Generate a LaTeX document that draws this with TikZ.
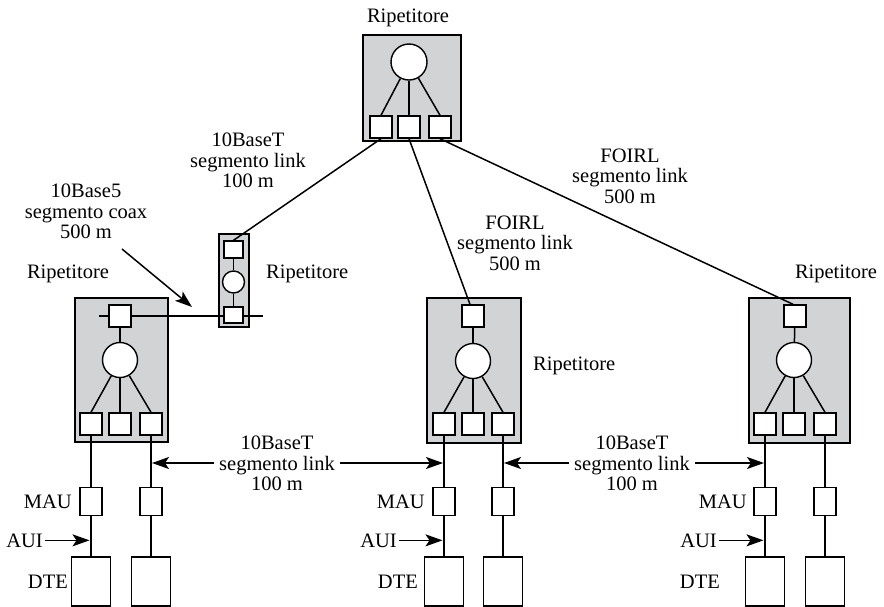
\documentclass[tikz,border=0pt]{standalone}
\usepackage{fontspec}
\setmainfont{Liberation Serif}
\usetikzlibrary{arrows.meta}
\definecolor{repgray}{RGB}{210,211,213}
\begin{document}
\begin{tikzpicture}[x=1pt,y=-1pt,
  every node/.style={font=\fontsize{20.5}{20.5}\selectfont},
  rbox/.style={draw, line width=2.3pt, fill=repgray, inner sep=0pt},
  port/.style={draw, fill=white, line width=1.4pt, minimum width=22pt, minimum height=22pt, inner sep=0pt},
  hub/.style={circle, draw, fill=white, line width=1.4pt, minimum size=35pt, inner sep=0pt},
  mau/.style={draw, line width=1.4pt, minimum width=22pt, minimum height=28pt, inner sep=0pt},
  dte/.style={draw, line width=1.4pt, minimum width=39pt, minimum height=49pt, inner sep=0pt},
  wire/.style={line width=1.5pt},
  lbl/.style={inner sep=0pt, align=center, anchor=north},
  tx/.style={inner sep=0pt},
  tip/.style={-{Stealth[length=17pt,width=12pt,inset=4pt]}},
  tips/.style={{Stealth[length=17pt,width=12pt,inset=4pt]}-{Stealth[length=17pt,width=12pt,inset=4pt]}}
]
\useasboundingbox (0,0) rectangle (884,606);

% repeater boxes
\node[rbox, minimum width=98pt, minimum height=106pt] (tbox) at (412,88) {};
\node[rbox, minimum width=93pt, minimum height=144pt] (lbox) at (121.5,370) {};
\node[rbox, minimum width=30pt, minimum height=93pt] (sbox) at (234,280.5) {};
\node[rbox, minimum width=94pt, minimum height=145pt] (mbox) at (474,370.5) {};
\node[rbox, minimum width=101pt, minimum height=145pt] (rbox) at (799.5,370.5) {};

% coax segment
\coordinate (coaxL) at (99,316);
\coordinate (coaxR) at (263,316);
\draw[wire] (coaxL) -- (coaxR);

% top repeater
\node[hub, minimum size=36pt] (th) at (409,62) {};
\node[port] (tp1) at (381,127) {};
\node[port] (tp2) at (409,127) {};
\node[port] (tp3) at (440,127) {};

% left repeater
\node[port] (lp0) at (120,316) {};
\node[hub] (lh) at (120,360) {};
\node[port] (lp1) at (91,424) {};
\node[port] (lp2) at (120,424) {};
\node[port] (lp3) at (151,424) {};

% small repeater
\node[port, minimum width=19pt, minimum height=17pt] (sp1) at (233.5,249.5) {};
\node[hub, minimum size=22pt] (sh) at (233.5,282) {};
\node[port, minimum width=19pt, minimum height=16pt] (sp2) at (233.5,315) {};

% middle repeater
\node[port] (mp0) at (473,316) {};
\node[hub] (mh) at (473,361) {};
\node[port] (mp1) at (444,424) {};
\node[port] (mp2) at (473,424) {};
\node[port] (mp3) at (503,424) {};

% right repeater
\node[port] (rp0) at (795,316) {};
\node[hub] (rh) at (794,360) {};
\node[port] (rp1) at (765,424) {};
\node[port] (rp2) at (794,424) {};
\node[port] (rp3) at (825,424) {};

% internal wiring
\foreach \h/\p in {th/tp1,th/tp2,th/tp3,lh/lp1,lh/lp2,lh/lp3,mh/mp1,mh/mp2,mh/mp3,rh/rp1,rh/rp2,rh/rp3}
  \draw[wire] (\h) -- (\p.north);
\draw[wire] (lp0) -- (lh);
\draw[wire] (mp0) -- (mh);
\draw[wire] (rp0) -- (rh);
\draw[wire] (sp1) -- (sh);
\draw[wire] (sh) -- (sp2);

% links from top repeater
\draw[wire] (tp1.south) -- (sp1.north);
\draw[wire] (tp2.south) -- ([xshift=-3pt]mp0.north);
\draw[wire] (tp3.south) -- ([xshift=-2pt]rp0.north);

% MAUs and DTEs
\node[mau] (lm1) at (91,501.5) {};
\node[mau] (lm2) at (151,501.5) {};
\node[mau] (mm1) at (444,501.5) {};
\node[mau] (mm2) at (503,501.5) {};
\node[mau] (rm1) at (765,501.5) {};
\node[mau] (rm2) at (825,501.5) {};
\node[dte] (ld1) at (91,581.5) {};
\node[dte] (ld2) at (151,581.5) {};
\node[dte] (md1) at (444,581.5) {};
\node[dte] (md2) at (503,581.5) {};
\node[dte] (rd1) at (765,581.5) {};
\node[dte] (rd2) at (825,581.5) {};

\foreach \p/\m/\d in {lp1/lm1/ld1,lp3/lm2/ld2,mp1/mm1/md1,mp3/mm2/md2,rp1/rm1/rd1,rp3/rm2/rd2}{
  \draw[wire] (\p.south) -- (\m.north);
  \draw[wire] (\m.south) -- (\d.north);
}

% 10BaseT link arrows
\coordinate (a1) at (152,463);
\coordinate (a2) at (443,463);
\coordinate (b1) at (504,463);
\coordinate (b2) at (764,463);
\draw[wire, tips] (a1) -- (a2);
\draw[wire, tips] (b1) -- (b2);
\node[lbl, fill=white, inner xsep=5pt] (la) at (277,436) {10BaseT\\segmento link\\100 m};
\node[lbl, fill=white, inner xsep=5pt] (lb) at (632,436) {10BaseT\\segmento link\\100 m};

% coax arrow
\coordinate (ca1) at (122,249);
\coordinate (ca2) at (192,307);
\draw[wire, tip] (ca1) -- (ca2);

% labels
\node[lbl] (l1) at (248,133) {10BaseT\\segmento link\\100 m};
\node[lbl] (l2) at (86,184) {10Base5\\segmento coax\\500 m};
\node[lbl] (l3) at (630,148.5) {FOIRL\\segmento link\\500 m};
\node[lbl] (l4) at (515,215.5) {FOIRL\\segmento link\\500 m};

\node[tx, anchor=base] (r1) at (408,22) {Ripetitore};
\node[tx, anchor=base] (r2) at (68,278) {Ripetitore};
\node[tx, anchor=base west] (r3) at (266,278) {Ripetitore};
\node[tx, anchor=base west] (r4) at (533,370) {Ripetitore};
\node[tx, anchor=base] (r5) at (836,278) {Ripetitore};

\node[tx, anchor=base east] (mau1) at (72,508) {MAU};
\node[tx, anchor=base east] (mau2) at (425,508) {MAU};
\node[tx, anchor=base east] (mau3) at (747,508) {MAU};
\node[tx, anchor=base east] (aui1) at (43,547) {AUI};
\node[tx, anchor=base east] (aui2) at (397,547) {AUI};
\node[tx, anchor=base east] (aui3) at (717,547) {AUI};
\node[tx, anchor=base east] (dte1) at (68,588) {DTE};
\node[tx, anchor=base east] (dte2) at (418,588) {DTE};
\node[tx, anchor=base east] (dte3) at (720,588) {DTE};

\draw[wire, tip] ([xshift=2pt]aui1.east) -- ([xshift=-1.5pt]aui1.east -| lm1.south);
\draw[wire, tip] ([xshift=2pt]aui2.east) -- ([xshift=-1.5pt]aui2.east -| mm1.south);
\draw[wire, tip] ([xshift=2pt]aui3.east) -- ([xshift=-1.5pt]aui3.east -| rm1.south);
\end{tikzpicture}
\end{document}
